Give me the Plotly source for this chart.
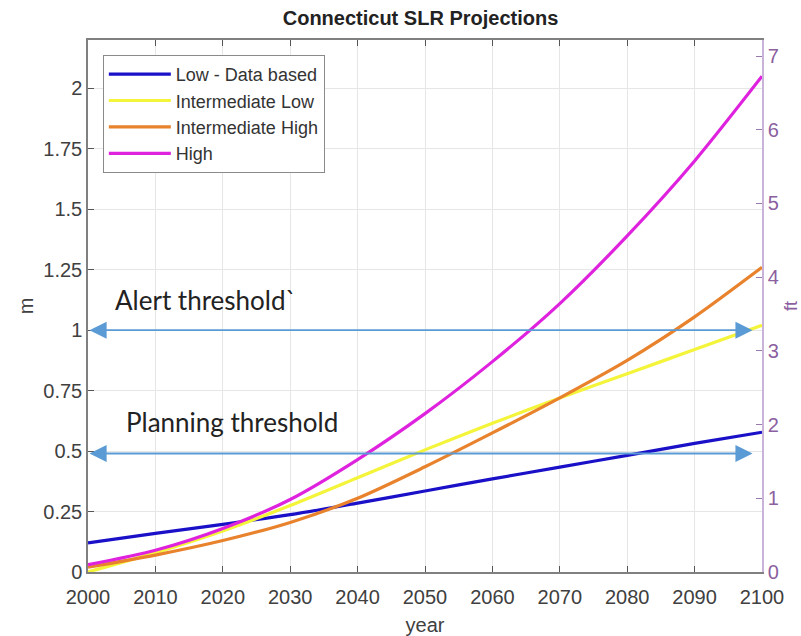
import plotly.graph_objects as go

years = [2000, 2010, 2020, 2030, 2040, 2050, 2060, 2070, 2080, 2090, 2100]
low_data_based = [0.12, 0.16, 0.197, 0.237, 0.285, 0.335, 0.385, 0.434, 0.482, 0.532, 0.578]
intermediate_low = [0.0, 0.08, 0.17, 0.275, 0.39, 0.505, 0.615, 0.72, 0.82, 0.92, 1.02]
intermediate_high = [0.02, 0.07, 0.13, 0.205, 0.305, 0.435, 0.575, 0.72, 0.875, 1.055, 1.26]
high = [0.03, 0.09, 0.18, 0.30, 0.465, 0.655, 0.87, 1.11, 1.39, 1.70, 2.05]

series_names = ["Low - Data based", "Intermediate Low", "Intermediate High", "High"]
series_values = [low_data_based, intermediate_low, intermediate_high, high]
series_colors = ["#1a10c8", "#f4f43a", "#e8822c", "#de22de"]

threshold_labels = ["Alert threshold`", "Planning threshold"]
threshold_values = [1.0, 0.49]
threshold_label_pos = [(2003.7, 1.125), (2005.3, 0.62)]
arrow_years = [2000, 2098.6]

m_ticks = [0, 0.25, 0.5, 0.75, 1, 1.25, 1.5, 1.75, 2]
m_ticktext = ["0", "0.25", "0.5", "0.75", "1", "1.25", "1.5", "1.75", "2"]
ft_ticks = [0, 1, 2, 3, 4, 5, 6, 7]
year_ticks = list(range(2000, 2101, 10))
M_TO_FT = 3.28084
M_MAX = 2.2

fig = go.Figure()
for name, vals, col in zip(series_names, series_values, series_colors):
    fig.add_trace(go.Scatter(x=years, y=vals, name=name, mode="lines",
                             line=dict(color=col, width=3.2, shape="spline", smoothing=0.8)))
fig.add_trace(go.Scatter(x=[None], y=[None], yaxis="y2", showlegend=False, hoverinfo="skip"))

arrow_color = "#5b9bd5"
for lab, val, (tx, ty) in zip(threshold_labels, threshold_values, threshold_label_pos):
    fig.add_annotation(x=arrow_years[1], y=val, ax=arrow_years[0], ay=val,
                       xref="x", yref="y", axref="x", ayref="y",
                       text="", showarrow=True, arrowhead=2, arrowside="end+start",
                       arrowsize=1.9, arrowwidth=1.8, arrowcolor=arrow_color)
    fig.add_annotation(x=tx, y=ty, xref="x", yref="y", text=lab, showarrow=False,
                       xanchor="left", yanchor="middle",
                       font=dict(family="Lato", size=26, color="#222222"))

# right axis title at the right edge
fig.add_annotation(x=1.0, y=0.5, xref="paper", yref="paper", xshift=41,
                   text="ft", textangle=-90, showarrow=False,
                   font=dict(family="Liberation Sans", size=18, color="#8b5fa0"))

axis_font = dict(family="Liberation Sans", size=20, color="#404040")
fig.update_layout(
    width=801, height=636,
    margin=dict(l=88, r=39, t=40, b=64),
    paper_bgcolor="white", plot_bgcolor="white",
    title=dict(text="<b>Connecticut SLR Projections</b>", x=0.525, xanchor="center",
               y=0.972, yanchor="middle",
               font=dict(family="Liberation Sans", size=20, color="#222222")),
    showlegend=True,
    legend=dict(x=0.022, y=0.972, xanchor="left", yanchor="top",
                bgcolor="white", bordercolor="#8a8a8a", borderwidth=1,
                font=dict(family="Liberation Sans", size=18, color="#333333"),
                itemwidth=62, tracegroupgap=0),
    xaxis=dict(range=[2000, 2100], tickvals=year_ticks, ticks="inside", ticklen=6,
               tickcolor="#555555", showline=True, linecolor="#808080", linewidth=1.5,
               mirror="ticks", showgrid=True, gridcolor="#e6e6e6", zeroline=False,
               ticklabelstandoff=6, automargin=False,
               tickfont=axis_font, title=dict(text="year", font=axis_font, standoff=12)),
    yaxis=dict(range=[0, M_MAX], tickvals=m_ticks, ticktext=m_ticktext, ticks="inside",
               ticklen=6, tickcolor="#555555", showline=True, linecolor="#808080",
               linewidth=1.5, showgrid=True, gridcolor="#e6e6e6", zeroline=False,
               automargin=False,
               tickfont=axis_font, title=dict(text="m", font=axis_font, standoff=4)),
    yaxis2=dict(range=[0, M_MAX * M_TO_FT], tickvals=ft_ticks, overlaying="y", side="right",
                ticks="inside", ticklen=6, tickcolor="#9a7aae", showline=True,
                linecolor="#c9b3d9", linewidth=1.5, showgrid=False, zeroline=False,
                automargin=False,
                tickfont=dict(family="Liberation Sans", size=20, color="#8b5fa0")),
)

fig.write_html("out.html")
